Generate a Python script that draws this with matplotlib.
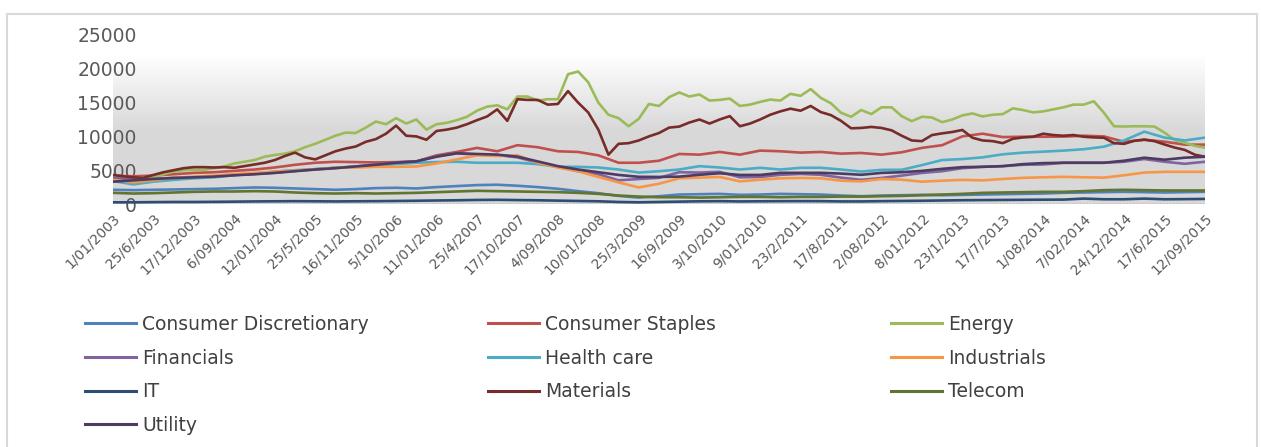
import numpy as np
import matplotlib
matplotlib.use("Agg")
import matplotlib.pyplot as plt
from matplotlib.lines import Line2D
from matplotlib.patches import Rectangle

# ---------------- data ----------------
date_labels = ["1/01/2003", "25/6/2003", "17/12/2003", "6/09/2004", "12/01/2004",
               "25/5/2005", "16/11/2005", "5/10/2006", "11/01/2006", "25/4/2007",
               "17/10/2007", "4/09/2008", "10/01/2008", "25/3/2009", "16/9/2009",
               "3/10/2010", "9/01/2010", "23/2/2011", "17/8/2011", "2/08/2012",
               "8/01/2012", "23/1/2013", "17/7/2013", "1/08/2014", "7/02/2014",
               "24/12/2014", "17/6/2015", "12/09/2015"]
y_ticks = [0, 5000, 10000, 15000, 20000, 25000]

series_names = ["Consumer Discretionary", "Consumer Staples", "Energy", "Financials",
                "Health care", "Industrials", "IT", "Materials", "Telecom", "Utility"]

consumer_discretionary = [2100, 2050, 2100, 2150, 2200, 2250, 2350, 2450, 2400, 2300,
                          2200, 2100, 2200, 2350, 2400, 2300, 2500, 2650, 2800, 2850,
                          2700, 2500, 2250, 1900, 1600, 1200, 950, 1150, 1400, 1450,
                          1500, 1350, 1400, 1500, 1450, 1400, 1250, 1150, 1250, 1300,
                          1350, 1300, 1350, 1400, 1450, 1500, 1550, 1650, 1700, 1750,
                          1800, 1750, 1700, 1750, 1800]
consumer_staples = [4200, 4100, 4200, 4400, 4600, 4700, 4900, 5100, 5400, 5800,
                    6100, 6250, 6200, 6150, 6200, 6300, 7200, 7700, 8300, 7800,
                    8700, 8400, 7800, 7700, 7200, 6100, 6100, 6400, 7400, 7300,
                    7700, 7300, 7900, 7800, 7600, 7700, 7450, 7550, 7300, 7650,
                    8300, 8700, 10000, 10400, 9900, 9950, 9950, 9970, 10100, 10000,
                    9200, 9500, 9220, 8780, 8780]
energy = [4000, 3950, 3900, 3900, 4000, 4400, 4800, 5000, 5050, 5060,
          5300, 5550, 6000, 6250, 6500, 7000, 7250, 7450, 7800, 8400,
          8900, 9500, 10100, 10560, 10500, 11300, 12200, 11800, 12700, 11900,
          12500, 11000, 11800, 12000, 12400, 12900, 13800, 14400, 14600, 14000,
          15900, 15900, 15300, 15500, 15500, 19200, 19600, 18000, 15000, 13200,
          12700, 11500, 12600, 14800, 14500, 15800, 16500, 15900, 16200, 15300,
          15400, 15600, 14500, 14700, 15100, 15450, 15300, 16300, 16000, 17000,
          15700, 14900, 13500, 12900, 13900, 13300, 14300, 14300, 13000, 12250,
          12900, 12800, 12100, 12500, 13100, 13400, 12950, 13200, 13300, 14150,
          13900, 13550, 13700, 14000, 14300, 14700, 14700, 15200, 13500, 11500,
          11460, 11500, 11500, 11460, 10560, 9450, 9050, 8600, 8330]
financials = [3870, 3600, 3700, 3870, 3950, 4050, 4300, 4450, 4620, 4900,
              5150, 5350, 5550, 5850, 6150, 6300, 7050, 7500, 7300, 7250,
              6900, 6100, 5500, 4850, 4400, 3500, 3700, 3870, 4700, 4650,
              4760, 3950, 4000, 4320, 4450, 4320, 3900, 3570, 3850, 4200,
              4600, 4850, 5300, 5500, 5600, 5800, 5850, 6100, 6100, 6100,
              6250, 6650, 6250, 5950, 6250]
health_care = [3400, 2900, 3300, 3570, 3800, 3950, 4250, 4500, 4800, 5000,
               5150, 5350, 5500, 5700, 5900, 6100, 6200, 6250, 6100, 6100,
               6100, 5900, 5500, 5500, 5400, 5100, 4650, 4850, 5100, 5600,
               5400, 5100, 5350, 5100, 5350, 5360, 5100, 4800, 5050, 5060,
               5750, 6500, 6650, 6900, 7350, 7600, 7740, 7900, 8100, 8480,
               9400, 10700, 9820, 9400, 9820]
industrials = [3570, 3200, 3500, 3870, 4050, 4200, 4420, 4600, 4780, 4950,
               5100, 5350, 5400, 5500, 5500, 5550, 6000, 6600, 7200, 7100,
               7200, 6100, 5400, 4850, 4000, 3200, 2450, 3000, 3800, 3900,
               4000, 3350, 3600, 3800, 3850, 3800, 3450, 3350, 3700, 3600,
               3300, 3450, 3570, 3500, 3700, 3870, 3950, 4020, 3950, 3900,
               4250, 4650, 4760, 4760, 4760]
it = [250, 250, 280, 300, 300, 320, 350, 380, 400, 420,
      400, 380, 400, 420, 450, 480, 520, 550, 600, 620,
      580, 550, 500, 450, 400, 300, 250, 300, 350, 400,
      420, 380, 400, 420, 430, 420, 380, 380, 420, 450,
      480, 520, 560, 580, 600, 620, 640, 650, 800, 700,
      700, 800, 700, 720, 750]
materials = [4300, 4100, 3950, 3870, 4300, 4700, 5000, 5300, 5450, 5450,
             5400, 5450, 5360, 5600, 5850, 6100, 6500, 7100, 7600, 6900,
             6600, 7200, 7800, 8200, 8500, 9200, 9600, 10400, 11600, 10100,
             10000, 9500, 10800, 11000, 11300, 11800, 12400, 12950, 14000, 12300,
             15500, 15400, 15400, 14700, 14800, 16700, 15000, 13540, 11000, 7300,
             8900, 9000, 9400, 10000, 10500, 11300, 11450, 12050, 12500, 11900,
             12500, 13000, 11500, 11900, 12500, 13200, 13700, 14100, 13800, 14500,
             13600, 13150, 12300, 11200, 11250, 11400, 11250, 10900, 10100, 9400,
             9300, 10200, 10450, 10650, 10950, 9800, 9400, 9300, 9000, 9650,
             9850, 9950, 10400, 10200, 10100, 10200, 9950, 9850, 9800, 9000,
             8900, 9350, 9520, 9300, 8800, 8350, 8000, 7290, 6990]
telecom = [1650, 1550, 1600, 1700, 1800, 1850, 1850, 1900, 1850, 1700,
           1600, 1550, 1600, 1550, 1600, 1650, 1750, 1850, 1950, 1900,
           1850, 1800, 1750, 1650, 1500, 1250, 1100, 1000, 1000, 950,
           1000, 1050, 1050, 1000, 1050, 1050, 1100, 1100, 1150, 1200,
           1300, 1400, 1500, 1650, 1700, 1750, 1800, 1800, 1900, 2050,
           2100, 2050, 2000, 2000, 2000]
utility = [3300, 3500, 3700, 3850, 3950, 4050, 4250, 4400, 4600, 4850,
           5100, 5300, 5550, 5800, 6100, 6300, 7000, 7500, 7400, 7300,
           7000, 6300, 5600, 5100, 4700, 4300, 4020, 4000, 4050, 4320,
           4550, 4300, 4300, 4610, 4610, 4610, 4500, 4320, 4600, 4700,
           4900, 5200, 5450, 5500, 5600, 5900, 6050, 6100, 6100, 6100,
           6400, 6850, 6550, 6850, 6990]

series_values = [consumer_discretionary, consumer_staples, energy, financials,
                 health_care, industrials, it, materials, telecom, utility]
series_colors = ["#4F81BD", "#C0504D", "#9BBB59", "#8064A2", "#4BACC6",
                 "#F79646", "#2C4D75", "#772C2A", "#5F7530", "#4D3B62"]

# ---------------- figure ----------------
W, H = 1261, 447
fig = plt.figure(figsize=(W / 100, H / 100), dpi=100)
fig.patch.set_facecolor("white")

# chart-area border
fig.patches.append(Rectangle((7 / W, -0.05), (1257 - 7) / W, 1.05 - 14 / H,
                             transform=fig.transFigure, fill=False,
                             edgecolor="#d9d9d9", linewidth=1.5))

ax = fig.add_axes([113 / W, (H - 204) / H, (1205 - 113) / W, (204 - 35) / H])
n_cat = len(date_labels) - 1
ax.set_xlim(0, n_cat)
ax.set_ylim(0, 25000)

# gradient plot-area background (grey at bottom fading to white at top)
vals = np.linspace(0, 25000, 300)
t = np.clip((vals - 11000) / (22000 - 11000), 0, 1)
grey = np.array([0.85, 0.85, 0.85])
white = np.array([1.0, 1.0, 1.0])
grad = grey[None, :] + (white - grey)[None, :] * t[:, None]
ax.imshow(grad[:, None, :], extent=[0, n_cat, 0, 25000], origin="lower",
          aspect="auto", zorder=0, interpolation="bilinear")

for name, vals_s, col in zip(series_names, series_values, series_colors):
    xs = np.linspace(0, n_cat, len(vals_s))
    ax.plot(xs, vals_s, color=col, lw=1.9, solid_joinstyle="round", zorder=2)

ax.axhline(0, color="#bfbfbf", lw=1.2, ls=(0, (1, 1)), zorder=1.5)

for s in ax.spines.values():
    s.set_visible(False)

ax.set_yticks(y_ticks)
ax.set_yticklabels([str(v) for v in y_ticks])
ax.tick_params(axis="y", length=0, pad=-17, labelsize=13.5, labelcolor="#595959")

ax.set_xticks(np.arange(len(date_labels)))
ax.set_xticklabels(date_labels, rotation=45, ha="right", va="top",
                   rotation_mode="anchor")
ax.tick_params(axis="x", length=0, pad=5, labelsize=10, labelcolor="#595959")

# legend: 3 columns
col_x = [85, 488, 891]
for c in range(3):
    idx = list(range(c, len(series_names), 3))
    handles = [Line2D([0], [0], color=series_colors[i], lw=2.2) for i in idx]
    labels = [series_names[i] for i in idx]
    fig.legend(handles, labels, loc="upper left",
               bbox_to_anchor=(col_x[c] / W, 1 - 315 / H),
               frameon=False, borderpad=0, borderaxespad=0,
               handlelength=2.72, handletextpad=0.32, labelspacing=0.78,
               prop={"size": 13.5}, labelcolor="#404040")

fig.savefig("out.png", dpi=100, facecolor="white")
